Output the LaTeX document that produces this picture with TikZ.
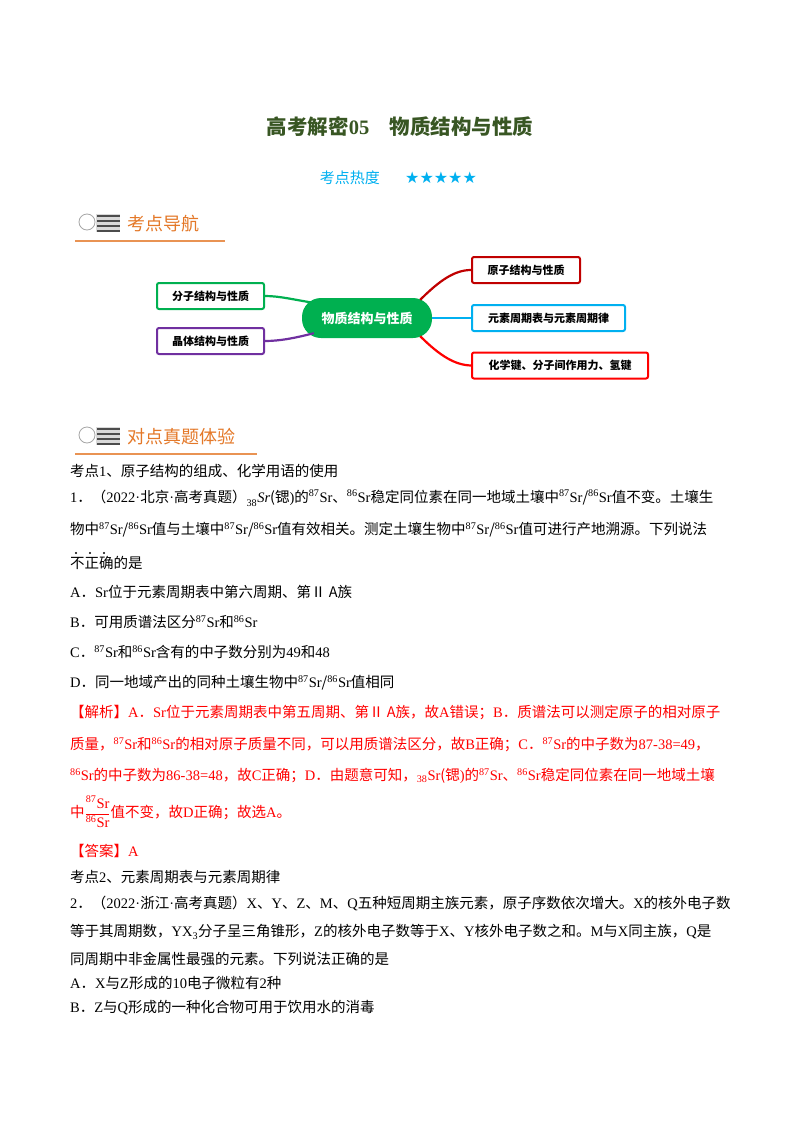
\documentclass[tikz,border=0pt]{standalone}
\usepackage{fontspec}
\setmainfont{Liberation Serif}
\newfontfamily\cjkfont{Noto Sans CJK SC}
\newfontfamily\symfont{DejaVu Sans}
\XeTeXinterchartokenstate=1
\newXeTeXintercharclass\CJKcls
\count255="3000
\loop \XeTeXcharclass\count255=\CJKcls \advance\count255 1 \ifnum\count255<"A000 \repeat
\count255="FF00
\loop \XeTeXcharclass\count255=\CJKcls \advance\count255 1 \ifnum\count255<"FFF0 \repeat
\XeTeXcharclass"2161=\CJKcls
\XeTeXinterchartoks 0 \CJKcls = {\cjkfont}
\XeTeXinterchartoks 4095 \CJKcls = {\cjkfont}
\XeTeXinterchartoks \CJKcls 0 = {\rmfamily}
\newcommand{\iso}[1]{{\rmfamily\textsuperscript{#1}Sr}}
\newcommand{\RII}{{\cjkfont Ⅱ}}
\definecolor{ttl}{RGB}{56,86,35}
\definecolor{cy}{RGB}{0,176,240}
\definecolor{rd}{RGB}{255,0,0}
\definecolor{drd}{RGB}{192,0,0}
\definecolor{gr}{RGB}{0,176,80}
\definecolor{pu}{RGB}{112,48,160}
\definecolor{org}{RGB}{228,120,40}
\begin{document}
\begin{tikzpicture}[x=1pt,y=-1pt,
  body/.style={anchor=west,inner sep=0pt,font=\fontsize{14.5}{16}\selectfont},
  box/.style={draw=#1,line width=2pt,rounded corners=2pt,minimum height=26pt,inner xsep=8pt,font=\fontsize{11}{13}\selectfont\bfseries\cjkfont},
  link/.style={line width=2.2pt,#1},
  hdr/.style={anchor=west,inner sep=0pt,text=org,font=\fontsize{18}{20}\selectfont\cjkfont}]
\useasboundingbox (0,0) rectangle (800,1132);
\fill[white] (0,0) rectangle (800,1132);
% title
\node[inner sep=0pt,text=ttl,font=\fontsize{20.5}{23}\selectfont\bfseries] (title) at (400,127) {高考解密{\rmfamily 05}\hspace{1em}物质结构与性质};
\node[inner sep=0pt,text=cy,font=\fontsize{15}{17}\selectfont,anchor=east] (heat) at (380,178) {考点热度};
\node[inner sep=0pt,text=cy,font=\fontsize{16}{17}\selectfont\symfont,anchor=west] (stars) at (405,178) {★★★★★};
% headers
\foreach \yy/\w/\t/\n in {224/225/考点导航/h1, 437/257/对点真题体验/h2}{
  \draw[gray!70,line width=0.8pt] (87,\yy-2) circle (8);
  \fill[gray!30] (96,\yy-10) rectangle (120,\yy+8);
  \foreach \k in {-8,-3,2,7} \draw[gray!60!black,line width=1.2pt] (97,\yy+\k) -- (120,\yy+\k);
  \node[hdr] (\n) at (127,\yy) {\t};
  \draw[org!80,line width=1.6pt] (75,\yy+17) -- (\w,\yy+17);
}
% mind map
\node[fill=gr,rounded corners=19pt,minimum width=130pt,minimum height=40pt,text=white,font=\fontsize{13}{15}\selectfont\bfseries\cjkfont] (c) at (367,318) {物质结构与性质};
\node[box=gr,minimum width=107pt] (l1) at (210.5,296) {分子结构与性质};
\node[box=pu,minimum width=107pt] (l2) at (210.5,341) {晶体结构与性质};
\node[box=drd,minimum width=108pt] (r1) at (526,270) {原子结构与性质};
\node[box=cy,minimum width=153pt] (r2) at (548.5,318) {元素周期表与元素周期律};
\node[box=rd,minimum width=176pt] (r3) at (560,365.5) {化学键、分子间作用力、氢键};
\draw[link=drd] (c.north east) ++(-12,2) .. controls (440,280) and (455,270) .. (r1.west);
\draw[link=cy] (c.east) -- (r2.west);
\draw[link=rd] (c.south east) ++(-12,-2) .. controls (440,356) and (455,365) .. (r3.west);
\draw[link=gr] (c.north west) ++(12,5) .. controls (295,300) and (280,296) .. (l1.east);
\draw[link=pu] (c.south west) ++(12,-5) .. controls (295,338) and (280,341) .. (l2.east);
% body
\node[body] (t1) at (70,471) {考点1、原子结构的组成、化学用语的使用};
\node[body] (t2) at (70,498) {1．（2022·北京·高考真题）{\rmfamily\raisebox{-2pt}{\textsubscript{38}}\textit{Sr}}(锶)的\iso{87}、\iso{86}稳定同位素在同一地域土壤中\iso{87}/\iso{86}值不变。土壤生};
\node[body] (t3) at (70,530) {物中\iso{87}/\iso{86}值与土壤中\iso{87}/\iso{86}值有效相关。测定土壤生物中\iso{87}/\iso{86}值可进行产地溯源。下列说法};
\foreach \xx in {76,90,104} \fill (\xx,553) circle (1.1);
\node[body] (t4) at (70,563) {不正确的是};
\node[body] (a1) at (70,592) {A．Sr位于元素周期表中第六周期、第\RII{} A族};
\node[body] (b1) at (70,622) {B．可用质谱法区分\iso{87}和\iso{86}};
\node[body] (c1) at (70,652) {C．\iso{87}和\iso{86}含有的中子数分别为49和48};
\node[body] (d1) at (70,683) {D．同一地域产出的同种土壤生物中\iso{87}/\iso{86}值相同};
\begin{scope}[every node/.append style={text=rd}]
\node[body] (e1) at (70,713) {【解析】A．Sr位于元素周期表中第五周期、第\RII{} A族，故A错误；B．质谱法可以测定原子的相对原子};
\node[body] (e2) at (70,745) {质量，\iso{87}和\iso{86}的相对原子质量不同，可以用质谱法区分，故B正确；C．\iso{87}的中子数为87-38=49，};
\node[body] (e3) at (70,776) {\iso{86}的中子数为86-38=48，故C正确；D．由题意可知，{\rmfamily\textsubscript{38}Sr}(锶)的\iso{87}、\iso{86}稳定同位素在同一地域土壤};
\node[body] (e4) at (70,812) {中$\displaystyle\frac{\hbox{\iso{87}}}{\hbox{\iso{86}}}$值不变，故D正确；故选A。};
\node[body] (ans) at (70,851) {【答案】A};
\end{scope}
\node[body] (k2) at (70,877) {考点2、元素周期表与元素周期律};
\node[body] (q2) at (70,903) {2．（2022·浙江·高考真题）X、Y、Z、M、Q五种短周期主族元素，原子序数依次增大。X的核外电子数};
\node[body] (q3) at (70,932) {等于其周期数，{\rmfamily YX\textsubscript{3}}分子呈三角锥形，Z的核外电子数等于X、Y核外电子数之和。M与X同主族，Q是};
\node[body] (q4) at (70,959) {同周期中非金属性最强的元素。下列说法正确的是};
\node[body] (q5) at (70,983) {A．X与Z形成的10电子微粒有2种};
\node[body] (q6) at (70,1008) {B．Z与Q形成的一种化合物可用于饮用水的消毒};
\end{tikzpicture}
\end{document}
